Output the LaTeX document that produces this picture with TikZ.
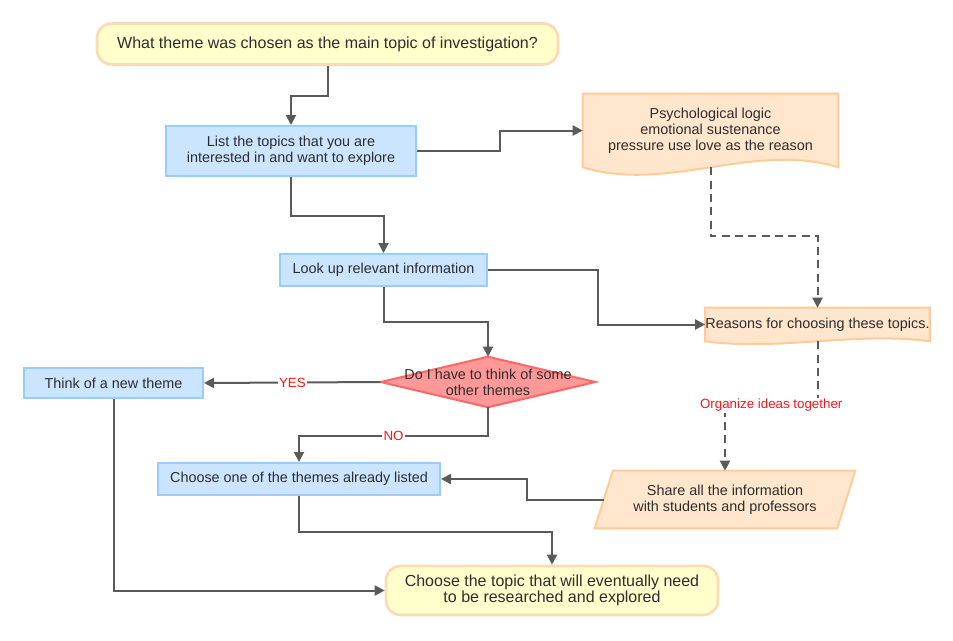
\documentclass[tikz,border=0pt]{standalone}
\usepackage{fontspec}
\setmainfont{Liberation Sans}
\usepackage{xcolor}
\definecolor{lineg}{RGB}{90,90,90}
\definecolor{txtg}{RGB}{45,45,45}
\definecolor{termfill}{RGB}{255,255,204}
\definecolor{termline}{RGB}{252,218,182}
\definecolor{bluefill}{RGB}{204,229,255}
\definecolor{blueline}{RGB}{153,204,255}
\definecolor{orfill}{RGB}{255,230,204}
\definecolor{orline}{RGB}{255,204,153}
\definecolor{diafill}{RGB}{255,153,153}
\definecolor{dialine}{RGB}{255,102,102}
\definecolor{labred}{RGB}{245,25,25}
\usepackage{tikz}
\usetikzlibrary{shapes.geometric,arrows.meta,positioning,calc,backgrounds}

\begin{document}
\begin{tikzpicture}[
  x=0.75pt, y=-0.75pt,
  base/.style={text=txtg, align=center, inner sep=0pt,
               font=\fontsize{10.8}{12}\selectfont},
  terminal/.style={base, rectangle, rounded corners=11pt, draw=termline,
                   fill=termfill, line width=2pt,
                   font=\fontsize{12}{12.5}\selectfont},
  block/.style={base, rectangle, draw=blueline, fill=bluefill, line width=1.5pt},
  paper/.style={base, rectangle},
  outline/.style={draw=orline, fill=orfill, line width=1.5pt},
  decision/.style={draw=dialine, fill=diafill, line width=1.5pt},
  arrow/.style={line width=1.5pt, draw=lineg, -{Triangle[length=7.5pt,width=7.5pt]}},
  dasharrow/.style={arrow, dash pattern=on 6pt off 4pt},
  answer/.style={text=labred, fill=white, inner sep=1pt,
                 font=\fontsize{10}{12}\selectfont}
]
  \useasboundingbox (0,0) rectangle (953,640);
  % Start and end
  \node[terminal, minimum width=345.75pt, minimum height=30.75pt] (start) at (327.5,44)
        {What theme was chosen as the main topic of investigation?};
  \node[terminal, minimum width=249pt, minimum height=36.75pt] (finish) at (552,590.5)
        {Choose the topic that will eventually need\\to be researched and explored};
  % Left column: steps
  \node[block, minimum width=187.5pt, minimum height=37.5pt] (list) at (291,151)
        {List the topics that you are\\interested in and want to explore};
  \node[block, minimum width=155.25pt, minimum height=24pt] (look) at (383.5,270)
        {Look up relevant information};
  \node[base, minimum width=160.5pt, minimum height=37.5pt] (ask) at (488,382)
        {Do I have to think of some\\other themes};
  \node[block, minimum width=134.25pt, minimum height=22.5pt] (think) at (113.5,383)
        {Think of a new theme};
  \node[block, minimum width=211.5pt, minimum height=24pt] (pick) at (299,479)
        {Choose one of the themes already listed};
  % Right column: notes
  \node[paper, minimum width=191.25pt, minimum height=54.75pt] (psych) at (710.5,130.5)
        {Psychological logic\\emotional sustenance\\pressure use love as the reason};
  \node[paper, minimum width=167.25pt, minimum height=24.75pt] (reasons) at (817.5,324.5)
        {Reasons for choosing these topics.};
  \node[paper, minimum width=181.5pt, minimum height=42.75pt] (share) at (725,499.5)
        {Share all the information\\with students and professors};
  % Outlines behind the texts
  \begin{scope}[on background layer]
    \draw[decision] (ask.north) -- (ask.east) -- (ask.south) -- (ask.west) -- cycle;
    \draw[outline] (psych.south west) -- (psych.north west) -- (psych.north east)
      -- (psych.south east)
      .. controls ($(psych.south east)!.33!(psych.south west)+(0,-26)$)
      and ($(psych.south east)!.67!(psych.south west)+(0,26)$) .. (psych.south west)
      -- cycle;
    \draw[outline] (reasons.south west) -- (reasons.north west) -- (reasons.north east)
      -- (reasons.south east)
      .. controls ($(reasons.south east)!.33!(reasons.south west)+(0,-10)$)
      and ($(reasons.south east)!.67!(reasons.south west)+(0,10)$) .. (reasons.south west)
      -- cycle;
    \draw[outline] ($(share.north west)+(9,0)$) -- ($(share.north east)+(9,0)$)
      -- ($(share.south east)+(-9,0)$) -- ($(share.south west)+(-9,0)$) -- cycle;
  \end{scope}
  % Connectors
  \draw[arrow] (start.south) -- ++(0,30) -| (list.north);
  \draw[arrow] (list.east) -- ++(83,0) |- (psych.west);
  \draw[arrow] (list.south) -- ++(0,39) -| (look.north);
  \draw[dasharrow] (psych.south) -- ++(0,69) -| (reasons.north);
  \draw[arrow] (look.east) -- ++(110,0) |- (reasons.west);
  \draw[arrow] (look.south) -- ++(0,35) -| (ask.north);
  \draw[arrow] (ask.west) -- node[answer] {YES} (think.east);
  \draw[arrow] (ask.south) -- ++(0,29) -| node[answer, pos=.25] {NO} (pick.north);
  \draw[dasharrow] (reasons.south) -- ++(0,64)
        -| node[answer, pos=.25] {Organize ideas together} (share.north);
  \draw[arrow] (share.west) -- ++(-77,0) |- (pick.east);
  \draw[arrow] (pick.south) -- ++(0,36) -| (finish.north);
  \draw[arrow] (think.south) |- (finish.west);
\end{tikzpicture}
\end{document}
